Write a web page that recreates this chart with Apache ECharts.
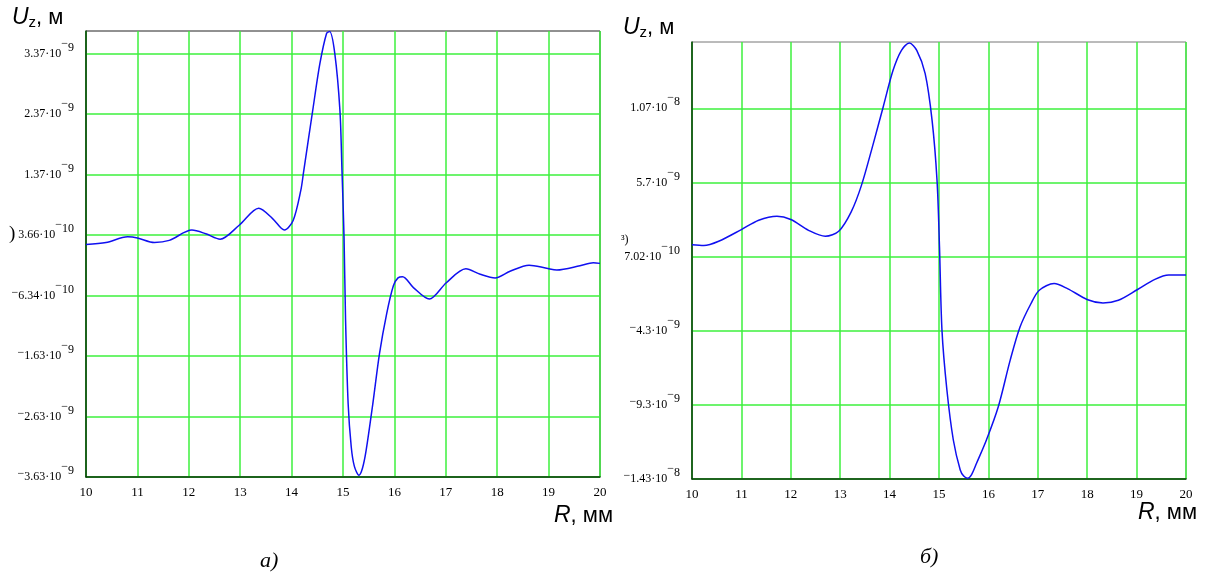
<!DOCTYPE html>
<html>
<head>
<meta charset="utf-8">
<script src="https://cdn.jsdelivr.net/npm/echarts@6/dist/echarts.min.js"></script>
<style>html,body{margin:0;padding:0;background:#fff}#c{width:1215px;height:574px}</style>
</head>
<body>
<div id="c"></div>
<script>
// ---- Data (U in units of 1e-9 m, R in mm) ----
const leftR = [10.0,10.39,10.81,11.0,11.33,11.62,12.06,12.33,12.61,12.98,13.36,13.63,13.86,14.03,14.18,14.23,14.42,14.55,14.68,14.74,14.84,14.94,14.98,15.02,15.05,15.10,15.16,15.22,15.31,15.38,15.45,15.58,15.71,15.85,15.98,16.07,16.16,16.37,16.68,17.01,17.39,17.67,17.96,18.25,18.62,18.96,19.16,19.61,19.87,20.0];
const leftU = [0.21,0.245,0.338,0.32,0.245,0.28,0.45,0.39,0.30,0.53,0.81,0.64,0.45,0.61,1.11,1.39,2.48,3.20,3.70,3.73,3.37,2.43,1.44,0.34,-1.04,-2.42,-3.13,-3.45,-3.60,-3.48,-3.19,-2.42,-1.59,-0.93,-0.47,-0.34,-0.32,-0.50,-0.69,-0.42,-0.19,-0.28,-0.34,-0.23,-0.13,-0.18,-0.21,-0.14,-0.09,-0.10];

const rightR = [10.0,10.24,10.54,11.0,11.35,11.72,12.0,12.36,12.70,12.97,13.22,13.43,13.67,13.87,14.07,14.24,14.40,14.55,14.72,14.86,14.96,15.01,15.06,15.16,15.29,15.43,15.50,15.58,15.66,15.76,15.96,16.20,16.44,16.64,16.86,17.03,17.33,17.60,18.01,18.32,18.63,19.02,19.37,19.65,20.0];
const rightU = [1.49,1.44,1.73,2.52,3.15,3.42,3.20,2.47,2.07,2.41,3.7,5.5,8.32,10.79,13.26,14.61,15.1,14.61,13.04,9.89,5.85,1.36,-4.26,-8.3,-11.67,-13.69,-14.1,-14.25,-14.0,-13.24,-11.67,-9.43,-6.3,-4.05,-2.48,-1.57,-1.12,-1.46,-2.21,-2.43,-2.25,-1.52,-0.84,-0.55,-0.55];

// y tick labels (bottom to top): sign, mantissa, exponent
const leftYSign = ["−","−","−","−","","","",""];
const leftYMant = ["3.63·10","2.63·10","1.63·10","6.34·10","3.66·10","1.37·10","2.37·10","3.37·10"];
const leftYExp  = ["9","9","9","10","10","9","9","9"];
const rightYSign = ["−","−","−","","",""];
const rightYMant = ["1.43·10","9.3·10","4.3·10","7.02·10","5.7·10","1.07·10"];
const rightYExp  = ["8","9","9","10","9","8"];

const xTicks = [10,11,12,13,14,15,16,17,18,19,20];

// axis ranges
const leftMin = -3.63, leftMax = 3.74, leftStep = 1;
const rightMin = -14.3, rightMax = 15.17, rightStep = 5;

const GREEN = '#3cf03c';
const SERIF = '"Liberation Serif","Times New Roman",serif';
const SANS = '"Liberation Sans",Arial,sans-serif';

function zip(a, b) { return a.map((v, i) => [v, b[i]]); }

const richY = {
  m: {fontFamily: SERIF, fontSize: 12, color: '#000', lineHeight: 14},
  mn: {fontFamily: SERIF, fontSize: 12, color: '#000', lineHeight: 14, padding: [0, 0, 6, 0]},
  s: {fontFamily: SERIF, fontSize: 12, color: '#000', lineHeight: 14, padding: [0, 0, 12, 0]},
  sn: {fontFamily: SERIF, fontSize: 12, color: '#000', lineHeight: 14, padding: [0, 0, 20, 0]}
};
function yFmt(sign, mant, exp, step) {
  return function (v) {
    const i = Math.round(v / step);
    if (Math.abs(v - i * step) > 1e-6 || i < 0 || i >= mant.length) return '';
    return (sign[i] ? '{mn|' + sign[i] + '}' : '') + '{m|' + mant[i] + '}{sn|−}{s|' + exp[i] + '}';
  };
}

function xAxis(gi) {
  return {
    gridIndex: gi, type: 'value', min: xTicks[0], max: xTicks[xTicks.length - 1], interval: 1,
    axisLine: {show: true, onZero: false, lineStyle: {color: '#0b3d0b', width: 1.5}},
    axisTick: {show: false},
    axisLabel: {fontFamily: SERIF, fontSize: 13, color: '#000', margin: 9, showMinLabel: true, showMaxLabel: true},
    splitLine: {show: true, lineStyle: {color: GREEN, width: 1.5}}
  };
}
function yLabelAxis(gi, max, step, sign, mant, exp) {
  return {
    gridIndex: gi, type: 'value', position: 'left', min: 0, max: max, interval: step,
    axisLine: {show: true, onZero: false, lineStyle: {color: '#0b3d0b', width: 1.5}},
    axisTick: {show: false},
    axisLabel: {formatter: yFmt(sign, mant, exp, step), rich: richY, margin: 12, showMaxLabel: false},
    splitLine: {show: true, showMaxLine: false, lineStyle: {color: GREEN, width: 1.5}}
  };
}

const lineStyle = {color: '#1010f0', width: 1.5};

const option = {
  animation: false,
  backgroundColor: '#fff',
  grid: [
    {left: 86, top: 31, width: 514, height: 446, show: true, borderColor: '#222', borderWidth: 1, backgroundColor: 'transparent'},
    {left: 692, top: 42, width: 494, height: 437, show: true, borderColor: '#777', borderWidth: 1, backgroundColor: 'transparent'}
  ],
  xAxis: [xAxis(0), xAxis(1)],
  yAxis: [
    {gridIndex: 0, type: 'value', min: leftMin, max: leftMax, show: false, splitLine: {show: false}, axisLine: {onZero: false}},
    yLabelAxis(0, +(leftMax - leftMin).toFixed(2), leftStep, leftYSign, leftYMant, leftYExp),
    {gridIndex: 1, type: 'value', min: rightMin, max: rightMax, show: false, splitLine: {show: false}, axisLine: {onZero: false}},
    yLabelAxis(1, +(rightMax - rightMin).toFixed(2), rightStep, rightYSign, rightYMant, rightYExp)
  ],
  series: [
    {type: 'line', xAxisIndex: 0, yAxisIndex: 0, data: zip(leftR, leftU), smooth: 0.3, showSymbol: false, lineStyle: lineStyle, itemStyle: {color: '#1010f0'}, z: 5},
    {type: 'line', xAxisIndex: 1, yAxisIndex: 2, data: zip(rightR, rightU), smooth: 0.3, showSymbol: false, lineStyle: lineStyle, itemStyle: {color: '#1010f0'}, z: 5}
  ],
  graphic: [
    {type: 'text', left: 12, top: 6, style: {text: '{u|U}{z|z}{c|, м}', rich: {
      u: {fontFamily: SANS, fontSize: 23, fontStyle: 'italic', fill: '#000'},
      z: {fontFamily: SANS, fontSize: 15, fill: '#000', padding: [10, 0, 0, 0]},
      c: {fontFamily: SANS, fontSize: 22, fill: '#000'}}}},
    {type: 'text', left: 623, top: 16, style: {text: '{u|U}{z|z}{c|, м}', rich: {
      u: {fontFamily: SANS, fontSize: 23, fontStyle: 'italic', fill: '#000'},
      z: {fontFamily: SANS, fontSize: 15, fill: '#000', padding: [10, 0, 0, 0]},
      c: {fontFamily: SANS, fontSize: 22, fill: '#000'}}}},
    {type: 'text', left: 554, top: 504, style: {text: '{r|R}{c|, мм}', rich: {
      r: {fontFamily: SANS, fontSize: 23, fontStyle: 'italic', fill: '#000'},
      c: {fontFamily: SANS, fontSize: 22, fill: '#000'}}}},
    {type: 'text', left: 1138, top: 501, style: {text: '{r|R}{c|, мм}', rich: {
      r: {fontFamily: SANS, fontSize: 23, fontStyle: 'italic', fill: '#000'},
      c: {fontFamily: SANS, fontSize: 22, fill: '#000'}}}},
    {type: 'text', left: 260, top: 550, style: {text: 'а)', fontFamily: SERIF, fontSize: 22, fontStyle: 'italic', fill: '#000'}},
    {type: 'text', left: 920, top: 546, style: {text: 'б)', fontFamily: SERIF, fontSize: 22, fontStyle: 'italic', fill: '#000'}},
    {type: 'text', left: 9, top: 225, style: {text: ')', fontFamily: SERIF, fontSize: 19, fill: '#000'}},
    {type: 'text', left: 621, top: 234, style: {text: '³)', fontFamily: SERIF, fontSize: 12, fill: '#000'}}
  ]
};

const chart = echarts.init(document.getElementById('c'), null, {renderer: 'canvas'});
chart.setOption(option);
</script>
</body>
</html>
